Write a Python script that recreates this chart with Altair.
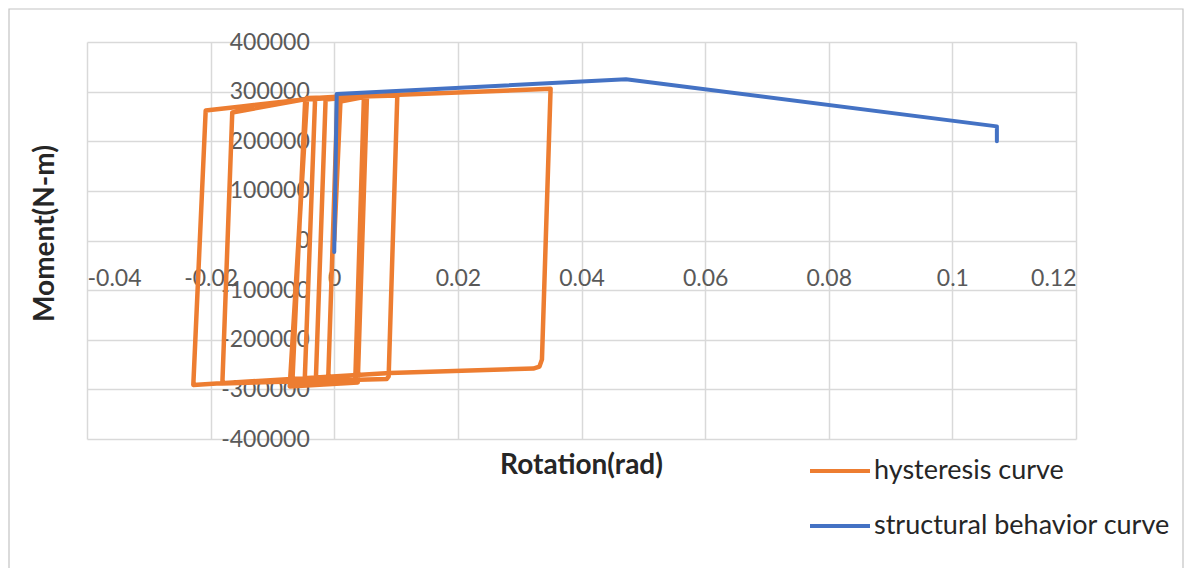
import altair as alt
import pandas as pd

# ---- data -------------------------------------------------------------
series_names = ["hysteresis curve", "structural behavior curve"]
series_colors = ["#ED7D31", "#4472C4"]

hyst_rot = [
    0.0, 0.0010, 0.0048,
    0.0034, -0.0010,
    0.0005, 0.0049,
    0.0035, -0.0030,
    -0.0014, 0.0050,
    0.0036, -0.0048,
    -0.0031, 0.0051,
    0.0037, -0.0068,
    -0.0047, 0.0052,
    0.0037, -0.0071,
    -0.0045, 0.0053,
    0.0038, -0.0072,
    -0.0044, 0.0102,
    0.0088, 0.0085, -0.0181,
    -0.0165, -0.0050, 0.0010, 0.0200, 0.0350,
    0.0336, 0.0332, 0.0322, 0.0090, -0.0228,
    -0.0208, -0.0150, -0.0050,
]
hyst_mom = [
    0, 280000, 289000,
    -282000, -288000,
    282000, 290000,
    -283000, -289000,
    284000, 291000,
    -284000, -290000,
    285000, 292000,
    -285000, -292000,
    284000, 292000,
    -286000, -293000,
    286000, 293000,
    -286000, -294000,
    287000, 292000,
    -274000, -279000, -288000,
    258000, 284000, 289000, 298000, 306000,
    -240000, -254000, -258000, -267000, -291000,
    262000, 270000, 284000,
]

struct_rot = [0.0, 0.0004, 0.0472, 0.1072, 0.1072]
struct_mom = [-23000, 295000, 325000, 230000, 200000]

x_ticks = [-0.04, -0.02, 0, 0.02, 0.04, 0.06, 0.08, 0.1, 0.12]
y_ticks = [-400000, -300000, -200000, -100000, 0, 100000, 200000, 300000, 400000]

# ---- tables -----------------------------------------------------------
hdf = pd.DataFrame({"rot": hyst_rot, "mom": hyst_mom,
                    "series": series_names[0], "idx": list(range(len(hyst_rot)))})
sdf = pd.DataFrame({"rot": struct_rot, "mom": struct_mom,
                    "series": series_names[1], "idx": list(range(len(struct_rot)))})

W, H = 989, 397
FONT = "Lato"
LABEL_C = "#595959"

x_enc = alt.X(
    "rot:Q",
    scale=alt.Scale(domain=[-0.04, 0.12], nice=False, zero=False),
    axis=alt.Axis(
        values=x_ticks, title="Rotation(rad)", offset=-(H / 2),
        labelPadding=27, labelExpr="toString(datum.value)",
        titleX=494, titleY=225, titleBaseline="middle", titleAlign="center",
    ),
)
y_enc = alt.Y(
    "mom:Q",
    scale=alt.Scale(domain=[-400000, 400000], nice=False, zero=False),
    axis=alt.Axis(
        values=y_ticks, title="Moment(N-m)", offset=-(W * 0.25),
        labelPadding=25, labelExpr="toString(datum.value)",
        titleX=-289, titleY=191, titleBaseline="middle", titleAlign="center",
        titleAngle=270,
    ),
)
color_enc = alt.Color(
    "series:N",
    scale=alt.Scale(domain=series_names, range=series_colors),
    legend=alt.Legend(
        title=None, orient="none", legendX=721, legendY=397,
        symbolType="stroke", symbolSize=3600, symbolStrokeWidth=4,
        labelFont=FONT, labelFontSize=27, labelColor="#262626",
        labelLimit=500, labelOffset=2, rowPadding=10,
    ),
)

border = alt.Chart(alt.Data(values=[{"a": 1}])).mark_rect(
    fillOpacity=0, stroke="#c4c4c4", strokeWidth=1.2
).encode(
    x=alt.value(-78), x2=alt.value(W + 107),
    y=alt.value(-33), y2=alt.value(H + 200),
)

hyst = alt.Chart(hdf).mark_line(strokeWidth=4.5, strokeJoin="round", strokeCap="round").encode(
    x=x_enc, y=y_enc, color=color_enc, order=alt.Order("idx:Q")
)
struct = alt.Chart(sdf).mark_line(strokeWidth=4, strokeJoin="round", strokeCap="round").encode(
    x=x_enc, y=y_enc, color=color_enc, order=alt.Order("idx:Q")
)

chart = alt.layer(border, hyst, struct).properties(
    width=W, height=H,
    autosize=alt.AutoSizeParams(type="none"),
    padding={"left": 79, "top": 34, "right": 108, "bottom": 129},
).configure_view(stroke=None).configure_axis(
    grid=True, gridColor="#d9d9d9", gridWidth=1.5,
    domain=False, ticks=False,
    labelFont=FONT, labelFontSize=23, labelColor=LABEL_C,
    titleFont=FONT, titleFontSize=28, titleFontWeight="bold", titleColor="#262626",
)

chart.save("out.html", embed_options={"renderer": "svg", "actions": False})
